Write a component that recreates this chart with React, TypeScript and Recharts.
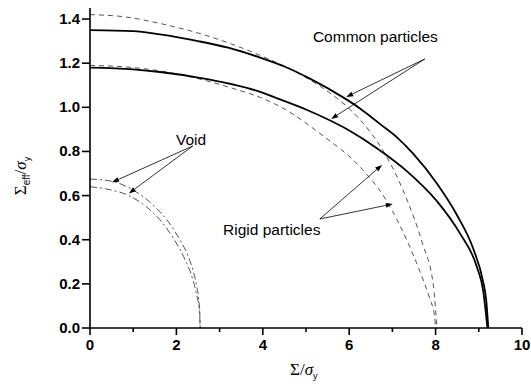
import React from 'react';
import { LineChart, Line, XAxis, YAxis, ReferenceLine, ReferenceDot } from 'recharts';

// curves (x = Σ/σy, y = Σeff/σy)
const commonOuterX = [0, 1, 1.62, 2.5, 3.2, 3.94, 4.5, 5.09, 5.86, 6.25, 6.71, 7.1, 7.48, 8.03, 8.5, 8.87, 9.1, 9.17, 9.22];
const commonOuterY = [1.35, 1.345, 1.33, 1.3, 1.27, 1.225, 1.185, 1.13, 1.045, 0.995, 0.925, 0.865, 0.79, 0.655, 0.51, 0.36, 0.21, 0.13, 0];

const commonInnerX = [0, 1, 1.62, 2.5, 3.94, 4.4, 5.0, 5.56, 6.0, 6.64, 7.34, 8.03, 8.56, 8.95, 9.1, 9.2];
const commonInnerY = [1.18, 1.172, 1.16, 1.135, 1.07, 1.036, 0.99, 0.94, 0.895, 0.815, 0.71, 0.575, 0.43, 0.28, 0.17, 0];

const rigidOuterX = [0, 0.8, 1.62, 2.78, 3.94, 4.86, 5.48, 6.02, 6.5, 6.87, 7.34, 7.7, 7.95, 8.03];
const rigidOuterY = [1.42, 1.41, 1.38, 1.32, 1.235, 1.15, 1.075, 0.99, 0.885, 0.775, 0.58, 0.38, 0.19, 0];

const rigidInnerX = [0, 1, 1.62, 2.5, 3.4, 3.94, 4.4, 5.4, 6.25, 6.87, 7.34, 7.64, 7.87, 7.97, 8.0];
const rigidInnerY = [1.19, 1.18, 1.165, 1.13, 1.08, 1.045, 1.003, 0.87, 0.73, 0.575, 0.395, 0.255, 0.13, 0.06, 0];

const voidOuterX = [0, 0.5, 1.0, 1.5, 1.78, 2.08, 2.24, 2.4, 2.47, 2.53, 2.55];
const voidOuterY = [0.675, 0.665, 0.625, 0.55, 0.49, 0.4, 0.34, 0.25, 0.19, 0.1, 0];

const voidInnerX = [0, 0.5, 0.9, 1.3, 1.62, 1.95, 2.2, 2.38, 2.48, 2.54, 2.55];
const voidInnerY = [0.64, 0.625, 0.6, 0.55, 0.49, 0.4, 0.31, 0.22, 0.14, 0.07, 0];

const xTicks = [0, 1, 2, 3, 4, 5, 6, 7, 8, 9, 10];
const yTicks = [0, 0.1, 0.2, 0.3, 0.4, 0.5, 0.6, 0.7, 0.8, 0.9, 1.0, 1.1, 1.2, 1.3, 1.4];

// annotation arrows: [tail, head] in data units
const arrows = [
  [{ x: 7.75, y: 1.219 }, { x: 5.93, y: 1.047 }],
  [{ x: 7.75, y: 1.219 }, { x: 5.58, y: 0.947 }],
  [{ x: 5.32, y: 0.494 }, { x: 6.76, y: 0.739 }],
  [{ x: 5.32, y: 0.494 }, { x: 7.01, y: 0.562 }],
  [{ x: 2.38, y: 0.825 }, { x: 0.51, y: 0.66 }],
  [{ x: 2.38, y: 0.825 }, { x: 0.9, y: 0.61 }],
];

const notes = [
  { x: 5.16, y: 1.296, text: 'Common particles' },
  { x: 3.08, y: 0.421, text: 'Rigid particles' },
  { x: 1.99, y: 0.83, text: 'Void' },
];

const zip = (xs: number[], ys: number[]) => xs.map((x, i) => ({ x, y: ys[i] }));

const tickFont = { fontFamily: 'Arial, "Liberation Sans", sans-serif', fontWeight: 'bold', fontSize: 15, fill: '#000' };
const serif = '"Times New Roman", "Liberation Serif", serif';

const YTick = (props: any) => {
  const { x, y, payload } = props;
  const major = Math.round(payload.value * 10) % 2 === 0;
  return (
    <g>
      <line x1={x - (major ? 8 : 4)} x2={x} y1={y} y2={y} stroke="#000" strokeWidth={1.6} />
      {major && (
        <text x={x - 10} y={y} dy={5} textAnchor="end" {...tickFont}>
          {payload.value.toFixed(1)}
        </text>
      )}
    </g>
  );
};

const XTick = (props: any) => {
  const { x, y, payload } = props;
  const major = payload.value % 2 === 0;
  return (
    <g>
      <line x1={x} x2={x} y1={y} y2={y + (major ? 7 : 4)} stroke="#000" strokeWidth={1.6} />
      {major && (
        <text x={x} y={y + 22} textAnchor="middle" {...tickFont}>
          {payload.value}
        </text>
      )}
    </g>
  );
};

const Arrow = (props: any) => {
  const { x1, y1, x2, y2 } = props;
  const a = Math.atan2(y2 - y1, x2 - x1);
  const len = 7;
  const w = 2.5;
  const bx = x2 - len * Math.cos(a);
  const by = y2 - len * Math.sin(a);
  const px = -Math.sin(a) * w;
  const py = Math.cos(a) * w;
  return (
    <g>
      <line x1={x1} y1={y1} x2={bx} y2={by} stroke="#000" strokeWidth={0.8} />
      <polygon points={`${x2},${y2} ${bx + px},${by + py} ${bx - px},${by - py}`} fill="#000" />
    </g>
  );
};

export default function App() {
  return (
    <div style={{ position: 'relative', width: 531, height: 392 }}>
      <style>{'body{margin:0;background:#fff}'}</style>
      <LineChart width={531} height={392} margin={{ top: 8, right: 9, bottom: 0, left: 0 }}>
        <XAxis
          dataKey="x"
          type="number"
          domain={[0, 10]}
          ticks={xTicks}
          tick={<XTick />}
          tickSize={0}
          tickMargin={0}
          height={64}
          axisLine={{ stroke: '#000', strokeWidth: 1.6 }}
        />
        <YAxis
          dataKey="y"
          type="number"
          domain={[0, 1.45]}
          ticks={yTicks}
          tick={<YTick />}
          tickSize={0}
          tickMargin={0}
          width={90}
          axisLine={{ stroke: '#000', strokeWidth: 1.6 }}
        />
        <Line data={zip(rigidOuterX, rigidOuterY)} dataKey="y" type="monotone" stroke="#555" strokeWidth={1} strokeDasharray="5 4" dot={false} isAnimationActive={false} />
        <Line data={zip(rigidInnerX, rigidInnerY)} dataKey="y" type="monotone" stroke="#555" strokeWidth={1} strokeDasharray="5 4" dot={false} isAnimationActive={false} />
        <Line data={zip(voidOuterX, voidOuterY)} dataKey="y" type="monotone" stroke="#555" strokeWidth={1} strokeDasharray="7 3 2 3" dot={false} isAnimationActive={false} />
        <Line data={zip(voidInnerX, voidInnerY)} dataKey="y" type="monotone" stroke="#555" strokeWidth={1} strokeDasharray="7 3 2 3" dot={false} isAnimationActive={false} />
        <Line data={zip(commonOuterX, commonOuterY)} dataKey="y" type="monotone" stroke="#000" strokeWidth={1.8} dot={false} isAnimationActive={false} />
        <Line data={zip(commonInnerX, commonInnerY)} dataKey="y" type="monotone" stroke="#000" strokeWidth={1.8} dot={false} isAnimationActive={false} />
        {arrows.map((seg, i) => (
          <ReferenceLine key={i} segment={seg} shape={<Arrow />} />
        ))}
        {notes.map((n) => (
          <ReferenceDot
            key={n.text}
            x={n.x}
            y={n.y}
            r={0}
            shape={(p: any) => (
              <text x={p.cx} y={p.cy} fontFamily='Arial, "Liberation Sans", sans-serif' fontSize={15.5} fill="#000">
                {n.text}
              </text>
            )}
          />
        ))}
      </LineChart>
      <svg width={531} height={392} style={{ position: 'absolute', left: 0, top: 0, pointerEvents: 'none' }}>
        <text x={290} y={375} fontFamily={serif} fontSize={17} fill="#000">
          Σ/<tspan fontStyle="italic">σ</tspan>
          <tspan fontFamily='Arial, sans-serif' fontSize={9} dy={4}>y</tspan>
        </text>
        <text transform="rotate(-90 26 176)" x={26} y={176} textAnchor="middle" fontFamily={serif} fontSize={17} fill="#000">
          Σ<tspan fontFamily='Arial, sans-serif' fontSize={10} dy={4}>eff</tspan>
          <tspan dy={-4}>/</tspan>
          <tspan fontStyle="italic">σ</tspan>
          <tspan fontFamily='Arial, sans-serif' fontSize={9} dy={4}>y</tspan>
        </text>
      </svg>
    </div>
  );
}
